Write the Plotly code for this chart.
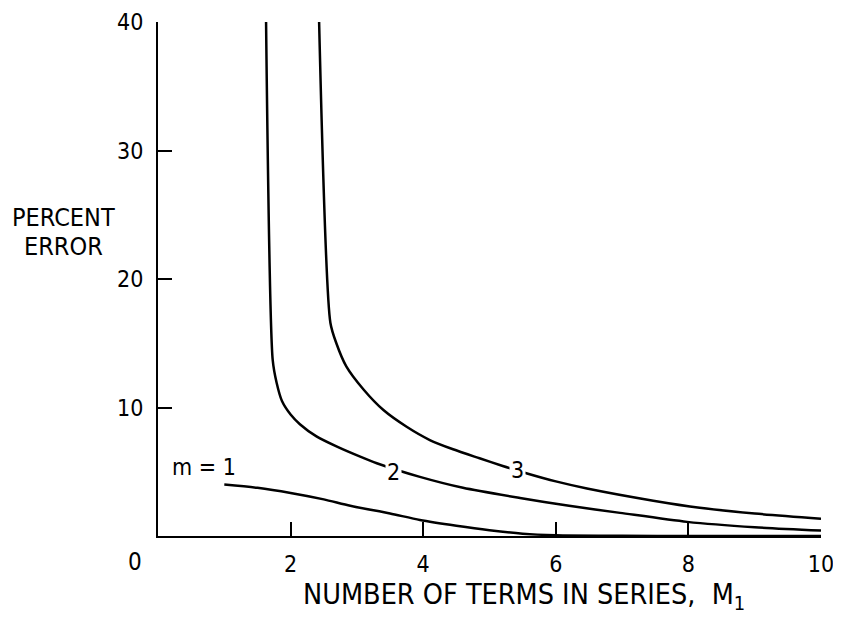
import plotly.graph_objects as go

# Data
m1_x = [1.0, 1.5, 2.0, 2.5, 2.9, 3.5, 3.95, 4.5, 5.0, 5.5, 6.0, 7.0, 8.0, 10.0]
m1_y = [4.0, 3.75, 3.35, 2.85, 2.35, 1.75, 1.25, 0.8, 0.45, 0.18, 0.06, 0.02, 0.0, 0.0]

m2_x = [1.63, 1.73, 1.79, 1.87, 2.0, 2.14, 2.39, 2.70, 3.05, 3.30, 3.95, 4.6, 5.46, 6.2, 6.97, 7.98, 9.0, 10.0]
m2_y = [40.0, 13.7, 11.9, 10.5, 9.45, 8.7, 7.75, 6.95, 6.17, 5.66, 4.6, 3.75, 2.96, 2.35, 1.8, 1.1, 0.68, 0.42]

m3_x = [2.43, 2.60, 2.69, 2.84, 3.10, 3.40, 3.75, 4.10, 4.45, 4.85, 5.2, 5.58, 6.0, 6.47, 7.47, 8.17, 9.0, 10.0]
m3_y = [40.0, 16.6, 15.0, 13.2, 11.4, 9.8, 8.5, 7.47, 6.75, 6.05, 5.45, 4.85, 4.25, 3.7, 2.75, 2.2, 1.75, 1.35]

x_ticks = [2, 4, 6, 8, 10]
y_ticks = [10, 20, 30, 40]

curve_labels = ["m = 1", "2", "3"]
label_x = [0.70, 3.55, 5.42]
label_y = [5.35, 5.0, 5.14]

FONT = "Liberation Sans Narrow, Arial Narrow, DejaVu Sans Condensed, sans-serif"

# Reference pixel frame (page body has an 8px margin, so the figure is offset by 8px)
PX0, PX1, PY0, PY1 = 158, 821, 536, 22
PW, PH = PX1 - PX0, PY0 - PY1
FIG_W, FIG_H = 825, 613


def px2paper(px, py):
    return (px - PX0) / PW, (PY0 - py) / PH


fig = go.Figure()
for xs, ys in [(m1_x, m1_y), (m2_x, m2_y), (m3_x, m3_y)]:
    fig.add_trace(go.Scatter(x=xs, y=ys, mode="lines",
                             line=dict(color="black", width=2.5, shape="spline", smoothing=0.7),
                             showlegend=False, hoverinfo="skip"))

for t, lx, ly in zip(curve_labels, label_x, label_y):
    fig.add_annotation(x=lx, y=ly, text=t, showarrow=False, bgcolor="white",
                       font=dict(family=FONT, size=23, color="black"), borderpad=1)

zx, zy = px2paper(135, 562)
fig.add_annotation(x=zx, y=zy, xref="paper", yref="paper", text="0", showarrow=False,
                   xanchor="center", yanchor="middle",
                   font=dict(family=FONT, size=24, color="black"))

for txt, cy in [("PERCENT", 217), ("ERROR", 246)]:
    ax, ay = px2paper(63, cy)
    fig.add_annotation(x=ax, y=ay, xref="paper", yref="paper", text=txt, showarrow=False,
                       xanchor="center", yanchor="middle",
                       font=dict(family=FONT, size=25, color="black"))

tx, ty = px2paper(524, 596)
fig.add_annotation(x=tx, y=ty, xref="paper", yref="paper",
                   text="NUMBER OF TERMS IN SERIES,  M<sub>1</sub>", showarrow=False,
                   xanchor="center", yanchor="middle",
                   font=dict(family=FONT, size=28.5, color="black"))

fig.update_layout(
    width=FIG_W, height=FIG_H,
    margin=dict(l=PX0 - 8, r=FIG_W - (PX1 - 8), t=PY1 - 8, b=FIG_H - (PY0 - 8), autoexpand=False),
    paper_bgcolor="white", plot_bgcolor="white",
    font=dict(family=FONT, size=23, color="black"),
    xaxis=dict(range=[0, 10], tickvals=x_ticks, ticktext=[str(v) for v in x_ticks],
               ticks="inside", ticklen=14, tickwidth=2, tickcolor="black",
               showline=True, linecolor="black", linewidth=2, showgrid=False, zeroline=False,
               tickfont=dict(family=FONT, size=23), ticklabelstandoff=6, automargin=False,
               ticklabeloverflow="allow"),
    yaxis=dict(range=[0, 40], tickvals=y_ticks, ticktext=[str(v) for v in y_ticks],
               ticks="inside", ticklen=14, tickwidth=2, tickcolor="black",
               showline=True, linecolor="black", linewidth=2, showgrid=False, zeroline=False,
               tickfont=dict(family=FONT, size=23), ticklabelstandoff=8, automargin=False),
)

fig.write_html("out.html")
